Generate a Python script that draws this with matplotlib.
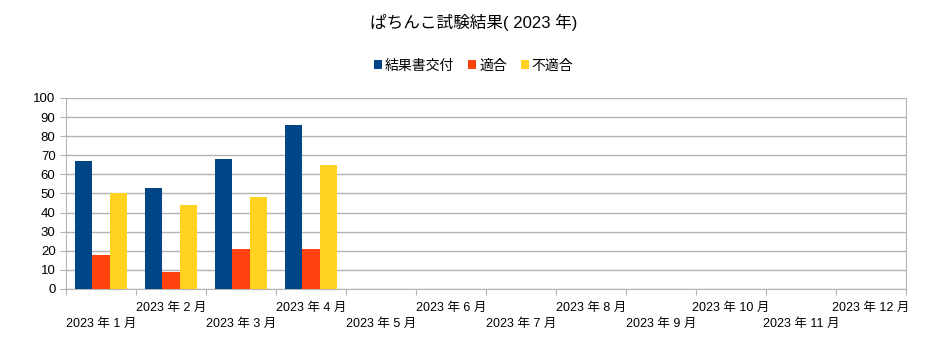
import numpy as np
import matplotlib.pyplot as plt

plt.rcParams['font.family'] = ['Liberation Sans', 'Noto Sans CJK JP']

# Data
months = ['2023 年 1 月', '2023 年 2 月', '2023 年 3 月', '2023 年 4 月', '2023 年 5 月', '2023 年 6 月',
          '2023 年 7 月', '2023 年 8 月', '2023 年 9 月', '2023 年 10 月', '2023 年 11 月', '2023 年 12 月']
issued = [67, 53, 68, 86, np.nan, np.nan, np.nan, np.nan, np.nan, np.nan, np.nan, np.nan]
passed = [18, 9, 21, 21, np.nan, np.nan, np.nan, np.nan, np.nan, np.nan, np.nan, np.nan]
failed = [50, 44, 48, 65, np.nan, np.nan, np.nan, np.nan, np.nan, np.nan, np.nan, np.nan]
series_names = ['結果書交付', '適合', '不適合']
colors = ['#004586', '#ff420e', '#ffd320']

fig = plt.figure(figsize=(9.47, 3.55), dpi=100)
ax = fig.add_axes([0.0697, 0.186, 0.887, 0.538])

x = np.arange(len(months))
w = 0.245
for i, (vals, name, c) in enumerate(zip([issued, passed, failed], series_names, colors)):
    ax.bar(x + (i - 1) * w, vals, width=w, color=c, label=name, zorder=3)

ax.set_xlim(-0.5, len(months) - 0.5)
ax.set_ylim(0, 100)
ax.set_yticks(range(0, 101, 10))
ax.yaxis.grid(True, color='#b3b3b3', linewidth=1, zorder=0)

# category boundary ticks
ax.set_xticks(np.arange(-0.5, len(months), 1))
ax.set_xticklabels([])
ax.tick_params(axis='x', length=4, color='#b3b3b3')
ax.tick_params(axis='y', length=4, color='#b3b3b3', labelsize=9.5)

# staggered month labels
for i, m in enumerate(months):
    yoff = -0.1 if i % 2 == 1 else -0.185
    ax.text(i, yoff, m, transform=ax.get_xaxis_transform(), ha='center', va='center', fontsize=9)

ax.spines['top'].set_visible(False)
for s in ['left', 'bottom', 'right']:
    ax.spines[s].set_color('#b3b3b3')

fig.text(0.5, 0.937, 'ぱちんこ試験結果( 2023 年)', ha='center', va='center', fontsize=12)
fig.legend(loc='center', bbox_to_anchor=(0.5, 0.815), ncol=3, frameon=False, fontsize=10,
           handlelength=0.6, handleheight=0.6, handletextpad=0.2, columnspacing=1.0)

fig.savefig('out.png', dpi=100)
